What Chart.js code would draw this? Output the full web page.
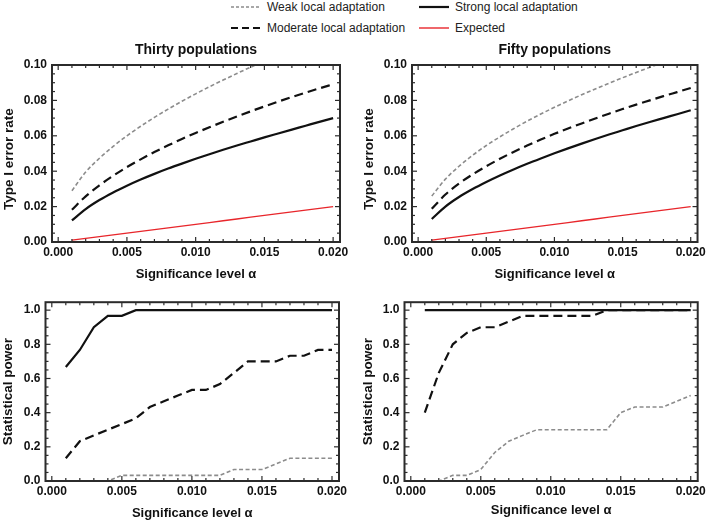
<!DOCTYPE html>
<html>
<head>
<meta charset="utf-8">
<script src="https://cdn.jsdelivr.net/npm/chart.js@4.4.1/dist/chart.umd.min.js"></script>
<style>
  body { margin: 0; background: #fff; width: 709px; height: 523px; position: relative; overflow: hidden; font-family: "Liberation Sans", Arial, sans-serif; }
  canvas { position: absolute; }
  .leg { position: absolute; height: 14px; font-size: 12px; color: #222; display: flex; align-items: center; white-space: nowrap; }
  .leg svg { margin-right: 6px; }
</style>
</head>
<body>

<div class="leg" style="left:231px;top:0px"><svg width="30" height="4"><line x1="0" y1="2" x2="30" y2="2" stroke="#8c8c8c" stroke-width="1.6" stroke-dasharray="3 2"/></svg>Weak local adaptation</div>
<div class="leg" style="left:419px;top:0px"><svg width="30" height="4"><line x1="0" y1="2" x2="30" y2="2" stroke="#111" stroke-width="2.2"/></svg>Strong local adaptation</div>
<div class="leg" style="left:231px;top:21px"><svg width="30" height="4"><line x1="0" y1="2" x2="30" y2="2" stroke="#111" stroke-width="2.2" stroke-dasharray="7 4"/></svg>Moderate local adaptation</div>
<div class="leg" style="left:419px;top:21px"><svg width="30" height="4"><line x1="0" y1="2" x2="30" y2="2" stroke="#e8262b" stroke-width="1.4"/></svg>Expected</div>

<canvas id="tl" width="355" height="246" style="left:0px;top:38px"></canvas>
<canvas id="tr" width="349" height="246" style="left:360px;top:38px"></canvas>
<canvas id="bl" width="355" height="233" style="left:0px;top:290px"></canvas>
<canvas id="br" width="349" height="233" style="left:360px;top:290px"></canvas>

<script>
// significance levels
const alpha = [0.001,0.002,0.003,0.004,0.005,0.006,0.007,0.008,0.009,0.010,
               0.011,0.012,0.013,0.014,0.015,0.016,0.017,0.018,0.019,0.020];
const expected = [0.001,0.002,0.003,0.004,0.005,0.006,0.007,0.008,0.009,0.010,
                  0.011,0.012,0.013,0.014,0.015,0.016,0.017,0.018,0.019,0.020];

// Type I error rate, thirty populations
const weak30     = [0.0290,0.0395,0.0473,0.0540,0.0600,0.0654,0.0704,0.0751,0.0795,0.0837,0.0877,0.0915,0.0952,0.0988,0.1022,0.1055,0.1087,0.1118,0.1148,0.1177];
const moderate30 = [0.0182,0.0258,0.0320,0.0374,0.0423,0.0467,0.0508,0.0546,0.0582,0.0616,0.0648,0.0679,0.0709,0.0738,0.0766,0.0793,0.0819,0.0844,0.0868,0.0891];
const strong30   = [0.0122,0.0186,0.0237,0.0280,0.0318,0.0353,0.0385,0.0415,0.0443,0.0470,0.0496,0.0521,0.0545,0.0568,0.0591,0.0613,0.0635,0.0657,0.0679,0.0700];

// Type I error rate, fifty populations
const weak50     = [0.0260,0.0355,0.0428,0.0490,0.0545,0.0594,0.0640,0.0683,0.0723,0.0761,0.0797,0.0832,0.0865,0.0897,0.0928,0.0958,0.0987,0.1015,0.1042,0.1068];
const moderate50 = [0.0188,0.0268,0.0330,0.0382,0.0428,0.0470,0.0509,0.0545,0.0579,0.0611,0.0641,0.0670,0.0698,0.0725,0.0751,0.0776,0.0800,0.0824,0.0847,0.0870];
const strong50   = [0.0130,0.0200,0.0254,0.0299,0.0339,0.0376,0.0410,0.0442,0.0472,0.0501,0.0529,0.0556,0.0582,0.0607,0.0631,0.0655,0.0678,0.0700,0.0722,0.0744];

// statistical power, thirty populations
const powWeak30     = [0,0,0,0,0.033,0.033,0.033,0.033,0.033,0.033,0.033,0.033,0.067,0.067,0.067,0.1,0.133,0.133,0.133,0.133];
const powModerate30 = [0.133,0.233,0.267,0.3,0.333,0.367,0.433,0.467,0.5,0.533,0.533,0.567,0.633,0.7,0.7,0.7,0.733,0.733,0.767,0.767];
const powStrong30   = [0.667,0.767,0.9,0.967,0.967,1,1,1,1,1,1,1,1,1,1,1,1,1,1,1];

// statistical power, fifty populations
const powWeak50     = [0,0,0.033,0.033,0.067,0.167,0.233,0.267,0.3,0.3,0.3,0.3,0.3,0.3,0.4,0.433,0.433,0.433,0.467,0.5];
const powModerate50 = [0.4,0.633,0.8,0.867,0.9,0.9,0.933,0.967,0.967,0.967,0.967,0.967,0.967,1,1,1,1,1,1,1];
const powStrong50   = [1,1,1,1,1,1,1,1,1,1,1,1,1,1,1,1,1,1,1,1];

// tick labels
const xTicks = [0, 0.005, 0.01, 0.015, 0.02];
const errTicks = [0, 0.02, 0.04, 0.06, 0.08, 0.1];
const powTicks = [0, 0.2, 0.4, 0.6, 0.8, 1.0];

Chart.defaults.font.family = '"Liberation Sans", Arial, sans-serif';
Chart.defaults.color = '#111';

const pts = ys => alpha.map((a, i) => ({x: a, y: ys[i]}));

function series(ys, kind, smooth) {
  const base = {data: pts(ys), pointRadius: 0, fill: false,
                tension: smooth ? 0.4 : 0, cubicInterpolationMode: smooth ? 'monotone' : 'default'};
  if (kind === 'weak') return {...base, borderColor: '#8c8c8c', borderWidth: 1.6, borderDash: [4, 2.5]};
  if (kind === 'moderate') return {...base, borderColor: '#111', borderWidth: 2.2, borderDash: [9, 5]};
  if (kind === 'strong') return {...base, borderColor: '#111', borderWidth: 2.2};
  return {...base, borderColor: '#e8262b', borderWidth: 1.3};
}

// box frame with inward major/minor ticks on all four sides
const framePlugin = {
  id: 'frame',
  afterDatasetsDraw(chart, args, o) {
    const {ctx, chartArea: a, scales: {x, y}} = chart;
    ctx.save();
    ctx.strokeStyle = '#2b2b2b';
    ctx.lineWidth = 1.2;
    const seg = (x1, y1, x2, y2) => { ctx.beginPath(); ctx.moveTo(x1, y1); ctx.lineTo(x2, y2); ctx.stroke(); };
    for (let i = 0; i <= 20; i++) {
      const px = x.getPixelForValue(i * 0.001);
      const len = i % 5 === 0 ? 5 : 3;
      seg(px, a.bottom, px, a.bottom - len);
      seg(px, a.top, px, a.top + len);
    }
    for (let i = 0; i <= o.n; i++) {
      const py = y.getPixelForValue(i * o.step);
      const len = i % 4 === 0 ? 5 : 3;
      seg(a.left, py, a.left + len, py);
      seg(a.right, py, a.right - len, py);
    }
    ctx.lineWidth = 2;
    ctx.strokeRect(a.left, a.top, a.right - a.left, a.bottom - a.top);
    ctx.restore();
  }
};

function panel(id, cfg) {
  new Chart(document.getElementById(id), {
    type: 'line',
    data: {datasets: cfg.datasets},
    plugins: [framePlugin],
    options: {
      responsive: false,
      animation: false,
      devicePixelRatio: 1,
      layout: {padding: cfg.pad},
      plugins: {
        legend: {display: false},
        tooltip: {enabled: false},
        title: cfg.title ? {display: true, text: cfg.title, fullSize: false,
          font: {size: 14, weight: 'bold'}, color: '#111', padding: {top: 4, bottom: 6.2}} : {display: false},
        frame: cfg.frame
      },
      scales: {
        x: {
          type: 'linear', min: -0.00045, max: 0.0205,
          afterBuildTicks: s => { s.ticks = xTicks.map(v => ({value: v})); },
          afterFit: s => { s.height = 40; },
          grid: {display: false, drawTicks: false},
          border: {display: false},
          ticks: {padding: 3, maxRotation: 0, autoSkip: false, font: {size: 12, weight: 'bold'}, color: '#111',
                  callback: v => v.toFixed(3)},
          title: {display: true, text: 'Significance level α', font: {size: 13, weight: 'bold'}, color: '#111',
                  padding: {top: 0, bottom: cfg.xtPad}}
        },
        y: {
          type: 'linear', min: 0, max: cfg.ymax,
          afterBuildTicks: s => { s.ticks = cfg.yTicks.map(v => ({value: v})); },
          afterFit: s => { s.width = cfg.yw; },
          grid: {display: false, drawTicks: false},
          border: {display: false},
          ticks: {padding: 5, font: {size: 12, weight: 'bold'}, color: '#111',
                  callback: v => v.toFixed(cfg.dec)},
          title: {display: true, text: cfg.ytitle, font: {size: 13.5, weight: 'bold'}, color: '#111',
                  padding: {top: cfg.ytPad, bottom: 0}}
        }
      }
    }
  });
}

panel('tl', {
  title: 'Thirty populations', pad: {left: 0, right: 15, top: 0, bottom: 2}, yw: 52, ymax: 0.1,
  yTicks: errTicks, dec: 2, ytitle: 'Type I error rate   ', ytPad: 1.5, xtPad: 0, frame: {n: 20, step: 0.005},
  datasets: [series(weak30, 'weak', true), series(moderate30, 'moderate', true), series(strong30, 'strong', true), series(expected, 'expected')]
});
panel('tr', {
  title: 'Fifty populations', pad: {left: 0, right: 11, top: 0, bottom: 2}, yw: 52, ymax: 0.1,
  yTicks: errTicks, dec: 2, ytitle: 'Type I error rate   ', ytPad: 1.5, xtPad: 0, frame: {n: 20, step: 0.005},
  datasets: [series(weak50, 'weak', true), series(moderate50, 'moderate', true), series(strong50, 'strong', true), series(expected, 'expected')]
});
panel('bl', {
  title: null, pad: {left: 0, right: 16, top: 11, bottom: 2}, yw: 45.5, ymax: 1.0465,
  yTicks: powTicks, dec: 1, ytitle: 'Statistical power', ytPad: 0, xtPad: 0, frame: {n: 20, step: 0.05},
  datasets: [series(powWeak30, 'weak'), series(powModerate30, 'moderate'), series(powStrong30, 'strong')]
});
panel('br', {
  title: null, pad: {left: 0, right: 11, top: 11, bottom: 2}, yw: 44.5, ymax: 1.0465,
  yTicks: powTicks, dec: 1, ytitle: 'Statistical power', ytPad: 0, xtPad: 3, frame: {n: 20, step: 0.05},
  datasets: [series(powWeak50, 'weak'), series(powModerate50, 'moderate'), series(powStrong50, 'strong')]
});
</script>
</body>
</html>
